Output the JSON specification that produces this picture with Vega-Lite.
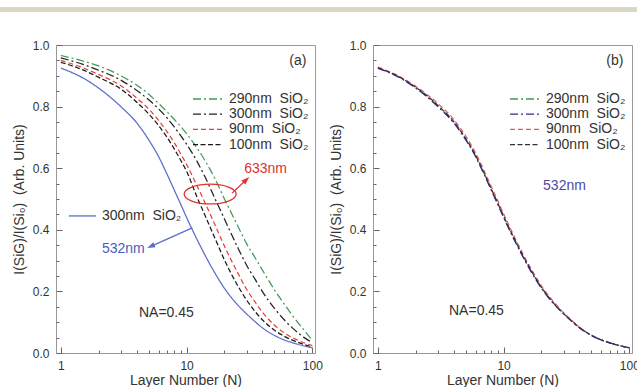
{
  "$schema": "https://vega.github.io/schema/vega-lite/v6.json",
  "padding": {"left": 0, "top": 7, "right": 0, "bottom": 0},
  "background": "white",
  "config": {
    "view": {"stroke": "#999999"},
    "font": "Liberation Sans",
    "axis": {"grid": false, "domainColor": "#999999", "tickColor": "#666666", "labelColor": "#333333", "titleColor": "#333333", "labelFont": "Liberation Sans", "titleFont": "Liberation Sans", "labelFontSize": 12, "titleFontSize": 14, "titleFontWeight": "normal", "labelFlush": false, "labelOverlap": false},
    "text": {"font": "Liberation Sans", "fontSize": 14, "align": "left", "baseline": "middle"}
  },
  "datasets": {
    "a": [
      {"series":"290nm","N":1,"v":0.966},{"series":"290nm","N":1.5,"v":0.948},{"series":"290nm","N":2,"v":0.932},{"series":"290nm","N":3,"v":0.900},{"series":"290nm","N":4,"v":0.870},{"series":"290nm","N":5,"v":0.840},{"series":"290nm","N":6,"v":0.810},{"series":"290nm","N":7,"v":0.783},{"series":"290nm","N":8,"v":0.758},{"series":"290nm","N":9,"v":0.735},{"series":"290nm","N":10,"v":0.712},{"series":"290nm","N":12,"v":0.668},{"series":"290nm","N":14,"v":0.625},{"series":"290nm","N":17,"v":0.562},{"series":"290nm","N":20,"v":0.500},{"series":"290nm","N":25,"v":0.420},{"series":"290nm","N":30,"v":0.355},{"series":"290nm","N":35,"v":0.310},{"series":"290nm","N":40,"v":0.270},{"series":"290nm","N":50,"v":0.205},{"series":"290nm","N":60,"v":0.158},{"series":"290nm","N":70,"v":0.120},{"series":"290nm","N":80,"v":0.090},{"series":"290nm","N":90,"v":0.064},{"series":"290nm","N":100,"v":0.042},
      {"series":"300nm","N":1,"v":0.958},{"series":"300nm","N":1.5,"v":0.937},{"series":"300nm","N":2,"v":0.918},{"series":"300nm","N":3,"v":0.886},{"series":"300nm","N":4,"v":0.853},{"series":"300nm","N":5,"v":0.822},{"series":"300nm","N":6,"v":0.792},{"series":"300nm","N":7,"v":0.763},{"series":"300nm","N":8,"v":0.733},{"series":"300nm","N":9,"v":0.705},{"series":"300nm","N":10,"v":0.678},{"series":"300nm","N":12,"v":0.625},{"series":"300nm","N":14,"v":0.572},{"series":"300nm","N":17,"v":0.497},{"series":"300nm","N":20,"v":0.435},{"series":"300nm","N":25,"v":0.350},{"series":"300nm","N":30,"v":0.285},{"series":"300nm","N":35,"v":0.240},{"series":"300nm","N":40,"v":0.200},{"series":"300nm","N":50,"v":0.145},{"series":"300nm","N":60,"v":0.107},{"series":"300nm","N":70,"v":0.080},{"series":"300nm","N":80,"v":0.060},{"series":"300nm","N":90,"v":0.045},{"series":"300nm","N":100,"v":0.034},
      {"series":"90nm","N":1,"v":0.950},{"series":"90nm","N":1.5,"v":0.926},{"series":"90nm","N":2,"v":0.904},{"series":"90nm","N":3,"v":0.868},{"series":"90nm","N":4,"v":0.828},{"series":"90nm","N":5,"v":0.792},{"series":"90nm","N":6,"v":0.755},{"series":"90nm","N":7,"v":0.718},{"series":"90nm","N":8,"v":0.682},{"series":"90nm","N":9,"v":0.646},{"series":"90nm","N":10,"v":0.612},{"series":"90nm","N":12,"v":0.546},{"series":"90nm","N":14,"v":0.488},{"series":"90nm","N":17,"v":0.412},{"series":"90nm","N":20,"v":0.347},{"series":"90nm","N":25,"v":0.267},{"series":"90nm","N":30,"v":0.207},{"series":"90nm","N":35,"v":0.166},{"series":"90nm","N":40,"v":0.133},{"series":"90nm","N":50,"v":0.090},{"series":"90nm","N":60,"v":0.065},{"series":"90nm","N":70,"v":0.049},{"series":"90nm","N":80,"v":0.038},{"series":"90nm","N":90,"v":0.030},{"series":"90nm","N":100,"v":0.024},
      {"series":"100nm","N":1,"v":0.944},{"series":"100nm","N":1.5,"v":0.919},{"series":"100nm","N":2,"v":0.895},{"series":"100nm","N":3,"v":0.857},{"series":"100nm","N":4,"v":0.815},{"series":"100nm","N":5,"v":0.776},{"series":"100nm","N":6,"v":0.738},{"series":"100nm","N":7,"v":0.700},{"series":"100nm","N":8,"v":0.662},{"series":"100nm","N":9,"v":0.625},{"series":"100nm","N":10,"v":0.590},{"series":"100nm","N":12,"v":0.510},{"series":"100nm","N":14,"v":0.447},{"series":"100nm","N":17,"v":0.368},{"series":"100nm","N":20,"v":0.302},{"series":"100nm","N":25,"v":0.225},{"series":"100nm","N":30,"v":0.172},{"series":"100nm","N":35,"v":0.135},{"series":"100nm","N":40,"v":0.108},{"series":"100nm","N":50,"v":0.074},{"series":"100nm","N":60,"v":0.054},{"series":"100nm","N":70,"v":0.041},{"series":"100nm","N":80,"v":0.032},{"series":"100nm","N":90,"v":0.025},{"series":"100nm","N":100,"v":0.020},
      {"series":"300nm 532","N":1,"v":0.925},{"series":"300nm 532","N":1.5,"v":0.893},{"series":"300nm 532","N":2,"v":0.860},{"series":"300nm 532","N":3,"v":0.800},{"series":"300nm 532","N":4,"v":0.748},{"series":"300nm 532","N":5,"v":0.692},{"series":"300nm 532","N":6,"v":0.637},{"series":"300nm 532","N":7,"v":0.580},{"series":"300nm 532","N":8,"v":0.528},{"series":"300nm 532","N":9,"v":0.482},{"series":"300nm 532","N":10,"v":0.440},{"series":"300nm 532","N":12,"v":0.372},{"series":"300nm 532","N":14,"v":0.318},{"series":"300nm 532","N":17,"v":0.256},{"series":"300nm 532","N":20,"v":0.210},{"series":"300nm 532","N":25,"v":0.160},{"series":"300nm 532","N":30,"v":0.127},{"series":"300nm 532","N":35,"v":0.102},{"series":"300nm 532","N":40,"v":0.082},{"series":"300nm 532","N":50,"v":0.057},{"series":"300nm 532","N":60,"v":0.042},{"series":"300nm 532","N":70,"v":0.033},{"series":"300nm 532","N":80,"v":0.026},{"series":"300nm 532","N":90,"v":0.021},{"series":"300nm 532","N":100,"v":0.017}
    ],
    "b": [
      {"series":"290nm","N":1,"v":0.926},{"series":"290nm","N":1.5,"v":0.894},{"series":"290nm","N":2,"v":0.862},{"series":"290nm","N":3,"v":0.802},{"series":"290nm","N":4,"v":0.750},{"series":"290nm","N":5,"v":0.694},{"series":"290nm","N":6,"v":0.639},{"series":"290nm","N":7,"v":0.582},{"series":"290nm","N":8,"v":0.530},{"series":"290nm","N":9,"v":0.484},{"series":"290nm","N":10,"v":0.442},{"series":"290nm","N":12,"v":0.374},{"series":"290nm","N":14,"v":0.320},{"series":"290nm","N":17,"v":0.258},{"series":"290nm","N":20,"v":0.212},{"series":"290nm","N":25,"v":0.162},{"series":"290nm","N":30,"v":0.128},{"series":"290nm","N":35,"v":0.103},{"series":"290nm","N":40,"v":0.083},{"series":"290nm","N":50,"v":0.057},{"series":"290nm","N":60,"v":0.042},{"series":"290nm","N":70,"v":0.033},{"series":"290nm","N":80,"v":0.026},{"series":"290nm","N":90,"v":0.021},{"series":"290nm","N":100,"v":0.017},
      {"series":"90nm","N":1,"v":0.928},{"series":"90nm","N":1.5,"v":0.897},{"series":"90nm","N":2,"v":0.866},{"series":"90nm","N":3,"v":0.810},{"series":"90nm","N":4,"v":0.759},{"series":"90nm","N":5,"v":0.704},{"series":"90nm","N":6,"v":0.649},{"series":"90nm","N":7,"v":0.592},{"series":"90nm","N":8,"v":0.540},{"series":"90nm","N":9,"v":0.494},{"series":"90nm","N":10,"v":0.452},{"series":"90nm","N":12,"v":0.383},{"series":"90nm","N":14,"v":0.328},{"series":"90nm","N":17,"v":0.265},{"series":"90nm","N":20,"v":0.218},{"series":"90nm","N":25,"v":0.166},{"series":"90nm","N":30,"v":0.131},{"series":"90nm","N":35,"v":0.105},{"series":"90nm","N":40,"v":0.084},{"series":"90nm","N":50,"v":0.058},{"series":"90nm","N":60,"v":0.043},{"series":"90nm","N":70,"v":0.033},{"series":"90nm","N":80,"v":0.026},{"series":"90nm","N":90,"v":0.021},{"series":"90nm","N":100,"v":0.017},
      {"series":"100nm","N":1,"v":0.926},{"series":"100nm","N":1.5,"v":0.895},{"series":"100nm","N":2,"v":0.863},{"series":"100nm","N":3,"v":0.804},{"series":"100nm","N":4,"v":0.752},{"series":"100nm","N":5,"v":0.696},{"series":"100nm","N":6,"v":0.641},{"series":"100nm","N":7,"v":0.584},{"series":"100nm","N":8,"v":0.532},{"series":"100nm","N":9,"v":0.486},{"series":"100nm","N":10,"v":0.444},{"series":"100nm","N":12,"v":0.376},{"series":"100nm","N":14,"v":0.322},{"series":"100nm","N":17,"v":0.260},{"series":"100nm","N":20,"v":0.213},{"series":"100nm","N":25,"v":0.162},{"series":"100nm","N":30,"v":0.128},{"series":"100nm","N":35,"v":0.103},{"series":"100nm","N":40,"v":0.083},{"series":"100nm","N":50,"v":0.057},{"series":"100nm","N":60,"v":0.042},{"series":"100nm","N":70,"v":0.033},{"series":"100nm","N":80,"v":0.026},{"series":"100nm","N":90,"v":0.021},{"series":"100nm","N":100,"v":0.017},
      {"series":"300nm","N":1,"v":0.925},{"series":"300nm","N":1.5,"v":0.893},{"series":"300nm","N":2,"v":0.860},{"series":"300nm","N":3,"v":0.800},{"series":"300nm","N":4,"v":0.748},{"series":"300nm","N":5,"v":0.692},{"series":"300nm","N":6,"v":0.637},{"series":"300nm","N":7,"v":0.580},{"series":"300nm","N":8,"v":0.528},{"series":"300nm","N":9,"v":0.482},{"series":"300nm","N":10,"v":0.440},{"series":"300nm","N":12,"v":0.372},{"series":"300nm","N":14,"v":0.318},{"series":"300nm","N":17,"v":0.256},{"series":"300nm","N":20,"v":0.210},{"series":"300nm","N":25,"v":0.160},{"series":"300nm","N":30,"v":0.127},{"series":"300nm","N":35,"v":0.102},{"series":"300nm","N":40,"v":0.082},{"series":"300nm","N":50,"v":0.057},{"series":"300nm","N":60,"v":0.042},{"series":"300nm","N":70,"v":0.033},{"series":"300nm","N":80,"v":0.026},{"series":"300nm","N":90,"v":0.021},{"series":"300nm","N":100,"v":0.017}
    ]
  },
  "spacing": 26,
  "vconcat": [
    {
      "width": 637, "height": 5,
      "view": {"stroke": null, "fill": "#dad7c5"},
      "data": {"values": []},
      "mark": "point"
    },
    {
      "spacing": 5,
      "resolve": {"scale": {"color": "independent", "strokeDash": "independent"}, "legend": {"color": "independent", "strokeDash": "independent"}},
      "hconcat": [
        {
          "width": 6, "height": 10,
          "view": {"stroke": null},
          "data": {"values": []},
          "mark": "point"
        },
        {
          "width": 259, "height": 308,
          "view": {"stroke": "#999999"},
          "resolve": {"axis": {"x": "independent", "y": "independent"}},
          "layer": [
            {
              "data": {"name": "a"},
              "mark": {"type": "line", "strokeWidth": 1.25, "interpolate": "monotone"},
              "encoding": {
                "x": {"field": "N", "type": "quantitative", "scale": {"type": "log", "domain": [0.915, 105], "nice": false},
                  "axis": {"orient": "bottom", "values": [1, 10, 100], "format": "d", "tickSize": -6, "labelPadding": 13, "title": "Layer Number (N)", "titlePadding": 2}},
                "y": {"field": "v", "type": "quantitative", "scale": {"domain": [0, 1], "nice": false, "zero": false},
                  "axis": {"orient": "left", "values": [0, 0.2, 0.4, 0.6, 0.8, 1.0], "format": ".1f", "tickSize": -6, "labelPadding": 13, "title": "I(SiG)/I(Si\u2080) \u00a0(Arb. Units)", "titlePadding": 6}},
                "color": {"field": "series", "type": "nominal",
                  "scale": {"domain": ["290nm", "300nm", "90nm", "100nm", "300nm 532"], "range": ["#3f9b57", "#222222", "#e8403a", "#1a1a1a", "#5b6dc8"]},
                  "legend": {"values": ["290nm", "300nm", "90nm", "100nm"], "title": null, "orient": "none", "legendX": 145, "legendY": 47, "symbolType": "M-3,0H3", "symbolSize": 100, "symbolStrokeWidth": 1.3, "labelFontSize": 14, "labelFont": "Liberation Sans", "labelColor": "#333333", "labelOffset": 14, "rowPadding": 1.2, "padding": 0,
                    "labelExpr": "(datum.label == '90nm' ? '\u2007' : '') + datum.label + ' \u00a0SiO\u2082'"}},
                "strokeDash": {"field": "series", "type": "nominal",
                  "scale": {"domain": ["290nm", "300nm", "90nm", "100nm", "300nm 532"], "range": [[8, 3, 2, 3], [8, 3, 2, 3], [5, 3], [5, 2.5], [1, 0]]},
                  "legend": {"values": ["290nm", "300nm", "90nm", "100nm"], "title": null, "orient": "none", "legendX": 145, "legendY": 47, "symbolType": "M-3,0H3", "symbolSize": 100, "symbolStrokeWidth": 1.3, "labelFontSize": 14, "labelFont": "Liberation Sans", "labelColor": "#333333", "labelOffset": 14, "rowPadding": 1.2, "padding": 0,
                    "labelExpr": "(datum.label == '90nm' ? '\u2007' : '') + datum.label + ' \u00a0SiO\u2082'"}}
              }
            },
            {
              "data": {"values": [{"label": "300nm \u00a0SiO\u2082", "N": 2.12, "v": 0.445}, {"label": "NA=0.45", "N": 4.18, "v": 0.13}, {"label": "(a)", "N": 65.6, "v": 0.948}]},
              "mark": {"type": "text", "color": "#333333"},
              "encoding": {
                "x": {"field": "N", "type": "quantitative", "axis": {"orient": "bottom", "values": [2, 3, 4, 5, 6, 7, 8, 9, 20, 30, 40, 50, 60, 70, 80, 90], "labels": false, "domain": false, "tickSize": -3, "title": null}},
                "y": {"field": "v", "type": "quantitative", "axis": {"orient": "left", "values": [0.05, 0.1, 0.15, 0.25, 0.3, 0.35, 0.45, 0.5, 0.55, 0.65, 0.7, 0.75, 0.85, 0.9, 0.95], "labels": false, "domain": false, "tickSize": -3, "title": null}},
                "text": {"field": "label"}
              }
            },
            {
              "data": {"values": [{"label": "633nm", "N": 28.7, "v": 0.597}]},
              "mark": {"type": "text", "color": "#e0312d"},
              "encoding": {"x": {"field": "N", "type": "quantitative", "axis": null}, "y": {"field": "v", "type": "quantitative", "axis": null}, "text": {"field": "label"}}
            },
            {
              "data": {"values": [{"label": "532nm", "N": 2.12, "v": 0.338}]},
              "mark": {"type": "text", "color": "#4a5cc0"},
              "encoding": {"x": {"field": "N", "type": "quantitative", "axis": null}, "y": {"field": "v", "type": "quantitative", "axis": null}, "text": {"field": "label"}}
            },
            {
              "data": {"values": [{"N": 1.158, "N2": 1.9, "v": 0.445, "v2": 0.445}, {"N": 11.1, "N2": 5.19, "v": 0.406, "v2": 0.346}]},
              "mark": {"type": "rule", "color": "#5b6dc8", "strokeWidth": 1.3},
              "encoding": {"x": {"field": "N", "type": "quantitative", "axis": null}, "x2": {"field": "N2"}, "y": {"field": "v", "type": "quantitative", "axis": null}, "y2": {"field": "v2"}}
            },
            {
              "data": {"values": [{"N": 5.19, "v": 0.346}]},
              "mark": {"type": "point", "shape": "M0,-1L0.7,1L-0.7,1Z", "size": 64, "angle": 246, "filled": true, "color": "#5b6dc8", "opacity": 1},
              "encoding": {"x": {"field": "N", "type": "quantitative", "axis": null}, "y": {"field": "v", "type": "quantitative", "axis": null}}
            },
            {
              "data": {"values": [{"N": 23.0, "N2": 29.85, "v": 0.519, "v2": 0.5627}]},
              "mark": {"type": "rule", "color": "#e0312d", "strokeWidth": 1.3},
              "encoding": {"x": {"field": "N", "type": "quantitative", "axis": null}, "x2": {"field": "N2"}, "y": {"field": "v", "type": "quantitative", "axis": null}, "y2": {"field": "v2"}}
            },
            {
              "data": {"values": [{"N": 29.85, "v": 0.5627}]},
              "mark": {"type": "point", "shape": "M0,-1L0.7,1L-0.7,1Z", "size": 64, "angle": 46.7, "filled": true, "color": "#e0312d", "opacity": 1},
              "encoding": {"x": {"field": "N", "type": "quantitative", "axis": null}, "y": {"field": "v", "type": "quantitative", "axis": null}}
            },
            {
              "data": {"values": [{"N": 15.4, "v": 0.516}]},
              "mark": {"type": "point", "shape": "M-1,0A1,0.38,0,1,1,1,0A1,0.38,0,1,1,-1,0", "size": 2704, "filled": false, "stroke": "#e0312d", "strokeWidth": 1.3, "opacity": 1},
              "encoding": {"x": {"field": "N", "type": "quantitative", "axis": null}, "y": {"field": "v", "type": "quantitative", "axis": null}}
            }
          ]
        },
        {
          "width": 259, "height": 308,
          "view": {"stroke": "#999999"},
          "resolve": {"axis": {"x": "independent", "y": "independent"}},
          "layer": [
            {
              "data": {"name": "b"},
              "mark": {"type": "line", "strokeWidth": 1.25, "interpolate": "monotone"},
              "encoding": {
                "x": {"field": "N", "type": "quantitative", "scale": {"type": "log", "domain": [0.915, 105], "nice": false},
                  "axis": {"orient": "bottom", "values": [1, 10, 100], "format": "d", "tickSize": -6, "labelPadding": 13, "title": "Layer Number (N)", "titlePadding": 2}},
                "y": {"field": "v", "type": "quantitative", "scale": {"domain": [0, 1], "nice": false, "zero": false},
                  "axis": {"orient": "left", "values": [0, 0.2, 0.4, 0.6, 0.8, 1.0], "format": ".1f", "tickSize": -6, "labelPadding": 13, "title": "I(SiG)/I(Si\u2080) \u00a0(Arb. Units)", "titlePadding": 6}},
                "color": {"field": "series", "type": "nominal",
                  "scale": {"domain": ["290nm", "300nm", "90nm", "100nm"], "range": ["#3f9b57", "#2e2e80", "#ec5a55", "#333333"]},
                  "legend": {"title": null, "orient": "none", "legendX": 145, "legendY": 47, "symbolType": "M-3,0H3", "symbolSize": 100, "symbolStrokeWidth": 1.3, "labelFontSize": 14, "labelFont": "Liberation Sans", "labelColor": "#333333", "labelOffset": 14, "rowPadding": 1.2, "padding": 0,
                    "labelExpr": "(datum.label == '90nm' ? '\u2007' : '') + datum.label + ' \u00a0SiO\u2082'"}},
                "strokeDash": {"field": "series", "type": "nominal",
                  "scale": {"domain": ["290nm", "300nm", "90nm", "100nm"], "range": [[8, 3, 2, 3], [8, 3, 2, 3], [5, 3], [5, 2.5]]},
                  "legend": {"title": null, "orient": "none", "legendX": 145, "legendY": 47, "symbolType": "M-3,0H3", "symbolSize": 100, "symbolStrokeWidth": 1.3, "labelFontSize": 14, "labelFont": "Liberation Sans", "labelColor": "#333333", "labelOffset": 14, "rowPadding": 1.2, "padding": 0,
                    "labelExpr": "(datum.label == '90nm' ? '\u2007' : '') + datum.label + ' \u00a0SiO\u2082'"}}
              }
            },
            {
              "data": {"values": [{"label": "NA=0.45", "N": 3.68, "v": 0.136}, {"label": "(b)", "N": 65.6, "v": 0.948}]},
              "mark": {"type": "text", "color": "#333333"},
              "encoding": {
                "x": {"field": "N", "type": "quantitative", "axis": {"orient": "bottom", "values": [2, 3, 4, 5, 6, 7, 8, 9, 20, 30, 40, 50, 60, 70, 80, 90], "labels": false, "domain": false, "tickSize": -3, "title": null}},
                "y": {"field": "v", "type": "quantitative", "axis": {"orient": "left", "values": [0.05, 0.1, 0.15, 0.25, 0.3, 0.35, 0.45, 0.5, 0.55, 0.65, 0.7, 0.75, 0.85, 0.9, 0.95], "labels": false, "domain": false, "tickSize": -3, "title": null}},
                "text": {"field": "label"}
              }
            },
            {
              "data": {"values": [{"label": "532nm", "N": 20.6, "v": 0.542}]},
              "mark": {"type": "text", "color": "#4b4aa3"},
              "encoding": {"x": {"field": "N", "type": "quantitative", "axis": null}, "y": {"field": "v", "type": "quantitative", "axis": null}, "text": {"field": "label"}}
            }
          ]
        }
      ]
    }
  ]
}
